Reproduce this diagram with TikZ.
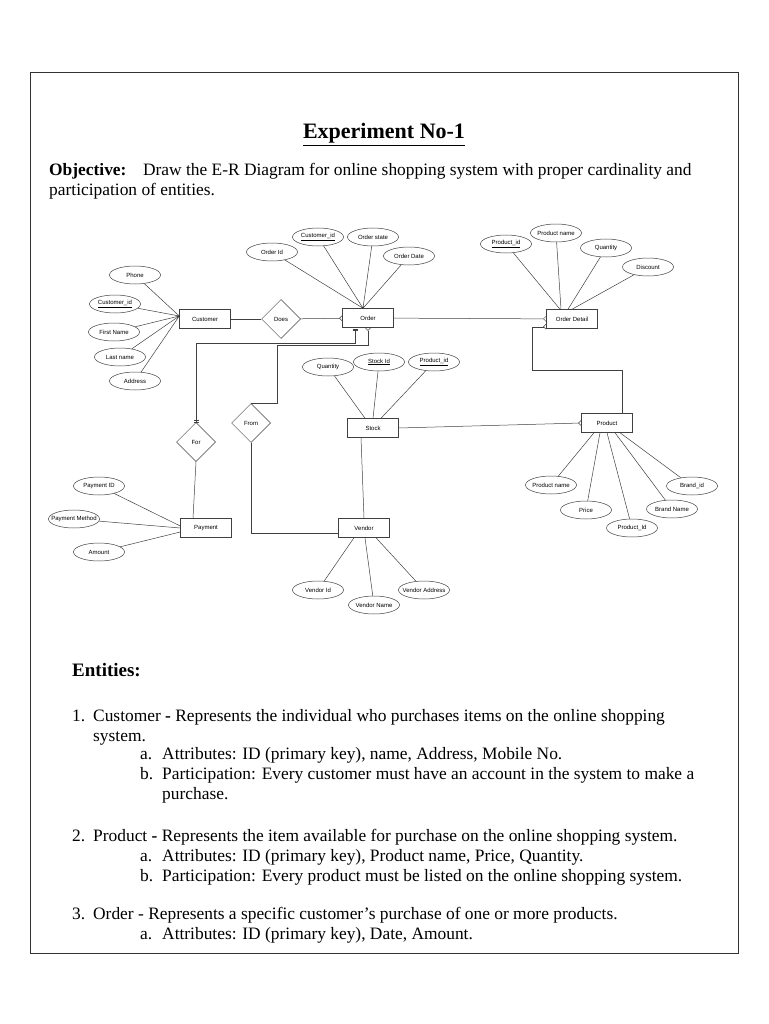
\documentclass[tikz,border=0pt]{standalone}
\usepackage{fontspec}
\setmainfont{Liberation Serif}
\newfontfamily\erfont{Liberation Sans}
\usetikzlibrary{shapes.geometric,arrows.meta}
\newcommand{\keyattr}[1]{\underline{#1}}
\newcommand{\attrtext}[1]{\makebox[30pt]{#1}}

\begin{document}
\begin{tikzpicture}[
  x=1pt, y=-1pt,
  erfont/.style={font=\erfont\fontsize{6}{7}\selectfont},
  entity/.style={rectangle, draw=black!75, line width=0.5pt, erfont,
                 minimum width=51pt, minimum height=19pt, inner sep=0pt},
  rel/.style={diamond, aspect=1, draw=black!75, line width=0.5pt, erfont,
              minimum size=39pt, inner sep=0pt},
  attr/.style={ellipse, draw=black!75, line width=0.5pt, erfont,
               minimum width=51pt, minimum height=18pt, inner sep=0pt},
  conn/.style={draw=black!75, line width=0.5pt},
  many/.style={-{Straight Barb[reversed,length=2.5pt,width=5pt]}},
  oneone/.style={{Bar[width=5pt,sep=1.5pt]Bar[width=5pt]}-{Bar[width=5pt,sep=1.5pt]Bar[width=5pt]}},
  body/.style={anchor=base west, inner sep=0pt, font=\fontsize{17.4}{20}\selectfont}
]
\useasboundingbox (0,0) rectangle (768,1024);
\draw[line width=0.9pt, black!80] (30,72) rectangle (738,953);

\node[anchor=base, inner sep=0pt, font=\bfseries\fontsize{22}{26}\selectfont] (title) at (384,139)
  {\underline{Experiment No-1}};
\node[body] (obj1) at (49,176) {\textbf{Objective:}\hspace{0.95em}Draw the E-R Diagram for online shopping system with proper cardinality and};
\node[body] (obj2) at (49,196) {participation of entities.};

% entities and relationships
\node[entity] (cust) at (205,319) {Customer};
\node[rel]    (does) at (281,319) {Does};
\node[entity] (ord)  at (368,318) {Order};
\node[entity] (odet) at (572,319) {Order Detail};
\node[entity] (stock) at (373,428) {Stock};
\node[entity] (prod) at (607,423) {Product};
\node[entity] (vend) at (364,528) {Vendor};
\node[entity] (pay)  at (206,528) {Payment};
\node[rel]    (for)  at (196,442) {For};
\node[rel]    (from) at (251,423) {From};

% attributes
\node[attr] (phone) at (135,275) {\attrtext{Phone}};
\node[attr] (cid)   at (115,304) {\attrtext{\keyattr{Customer\_id}}};
\node[attr] (fname) at (114,332) {\attrtext{First Name}};
\node[attr] (lname) at (120,357) {\attrtext{Last name}};
\node[attr] (caddr) at (135,381) {\attrtext{Address}};

\node[attr] (oid)    at (272,252) {\attrtext{Order Id}};
\node[attr] (ocid)   at (318,237) {\attrtext{\keyattr{Customer\_id}}};
\node[attr] (ostate) at (373,237) {\attrtext{Order state}};
\node[attr] (odate)  at (409,256) {\attrtext{Order Date}};

\node[attr] (dpid)   at (506,244) {\attrtext{\keyattr{Product\_id}}};
\node[attr] (dpname) at (556,233) {\attrtext{Product name}};
\node[attr] (dqty)   at (606,248) {\attrtext{Quantity}};
\node[attr] (ddisc)  at (648,267) {\attrtext{Discount}};

\node[attr] (sqty) at (328,367) {\attrtext{Quantity}};
\node[attr] (sid)  at (379,362) {\attrtext{\keyattr{Stock Id}}};
\node[attr] (spid) at (434,362) {\attrtext{\keyattr{Product\_id}}};

\node[attr] (ppname) at (551,485) {\attrtext{Product name}};
\node[attr] (pprice) at (586,510) {\attrtext{Price}};
\node[attr] (ppid)   at (632,528) {\attrtext{Product\_Id}};
\node[attr] (pbname) at (672,509) {\attrtext{Brand Name}};
\node[attr] (pbid)   at (692,486) {\attrtext{Brand\_id}};

\node[attr] (payid)   at (99,486) {\attrtext{Payment ID}};
\node[attr] (paymeth) at (74,519) {\attrtext{Payment Method}};
\node[attr] (payamt)  at (99,552) {\attrtext{Amount}};

\node[attr] (vid)   at (318,590) {\attrtext{Vendor Id}};
\node[attr] (vname) at (374,605) {\attrtext{Vendor Name}};
\node[attr] (vaddr) at (424,590) {\attrtext{Vendor Address}};

\coordinate (cust-c) at ([yshift=3pt]cust.west);
\coordinate (ord-c) at ([xshift=-5pt]ord.north);
\coordinate (pod) at (532,370);

% attribute lines
\draw[conn] (phone) -- (cust-c) (cid) -- (cust-c) (fname) -- (cust-c)
  (lname) -- (cust-c) (caddr) -- (cust-c);
\draw[conn] (oid) -- (ord-c) (ocid) -- (ord-c) (ostate) -- (ord-c) (odate) -- (ord-c);
\draw[conn] (dpid) -- ([xshift=-12pt]odet.north) (dpname) -- ([xshift=-11pt]odet.north)
  (dqty) -- ([xshift=-4pt]odet.north) (ddisc) -- (odet.north);
\draw[conn] (sqty) -- ([xshift=-8pt]stock.north) (sid) -- (stock.north)
  (spid) -- ([xshift=8pt]stock.north);
\draw[conn] (ppname) -- ([xshift=-13pt]prod.south) (pprice) -- ([xshift=-7pt]prod.south)
  (ppid) -- (prod.south) (pbname) -- ([xshift=8pt]prod.south) (pbid) -- ([xshift=13pt]prod.south);
\draw[conn] (payid) -- ([yshift=2pt]pay.west) (paymeth) -- (pay.west) (payamt) -- ([yshift=-4pt]pay.west);
\draw[conn] (vid) -- ([xshift=-10pt]vend.south) (vname) -- ([xshift=1pt]vend.south)
  (vaddr) -- ([xshift=12pt]vend.south);

% relationship lines
\draw[conn] (cust) -- (does);
\draw[conn, many] (does) -- (ord);
\draw[conn, many] (ord) -- (odet);
\draw[conn, many] ([xshift=15pt]prod.north) |- (pod) |- ([yshift=2pt]odet.south west);
\draw[conn, many] (stock.east) -- (prod.west);
\draw[conn] ([xshift=-12pt]stock.south) -- (vend.north);
\draw[conn, many] (from.north) -| ++(26,-58) -| (ord.south);
\draw[conn] (from.south) |- ([yshift=-5pt]vend.west);
\draw[conn, oneone] ([xshift=-13pt]ord.south) -- ++(0,15) -| (for.north);
\draw[conn] (for.south) -- ([xshift=-13pt]pay.north);

% entity descriptions
\node[body, font=\bfseries\fontsize{19}{23}\selectfont] (ent) at (72,676) {Entities:};
\node[body] (e1)  at (72,721)  {\makebox[21pt][l]{1.}Customer \textbf{-} Represents the individual who purchases items on the online shopping};
\node[body] (e1x) at (93,741)  {system.};
\node[body] (e1a) at (140,759) {\makebox[22pt][l]{a.}Attributes: ID (primary key), name, Address, Mobile No.};
\node[body] (e1b) at (140,779) {\makebox[22pt][l]{b.}Participation: Every customer must have an account in the system to make a};
\node[body] (e1y) at (162,799) {purchase.};
\node[body] (e2)  at (72,841)  {\makebox[21pt][l]{2.}Product \textbf{-} Represents the item available for purchase on the online shopping system.};
\node[body] (e2a) at (140,861) {\makebox[22pt][l]{a.}Attributes: ID (primary key), Product name, Price, Quantity.};
\node[body] (e2b) at (140,881) {\makebox[22pt][l]{b.}Participation: Every product must be listed on the online shopping system.};
\node[body] (e3)  at (72,919)  {\makebox[21pt][l]{3.}Order - Represents a specific customer's purchase of one or more products.};
\node[body] (e3a) at (140,939) {\makebox[22pt][l]{a.}Attributes: ID (primary key), Date, Amount.};
\end{tikzpicture}
\end{document}
